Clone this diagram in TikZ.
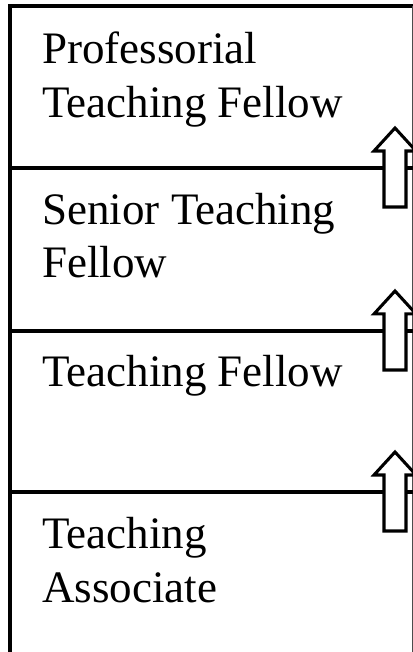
\documentclass[tikz,border=0pt]{standalone}
\usepackage{fontspec}
\setmainfont{Liberation Serif}
\usepackage{tikz}

\newcommand{\rankfont}{\fontsize{33.9}{40.5}\selectfont}

\begin{document}
\begin{tikzpicture}[x=1cm,y=1cm, every node/.style={font=\rankfont, inner sep=0pt, anchor=base west, align=left},
  border/.style={line width=3.3pt},
  uparrow/.style={draw, fill=white, line width=2.3pt, line join=miter}]
\useasboundingbox (0,0) rectangle (10.927,-17.251);
% outer frame, cut off at the right and at the bottom
\draw[border] (0.265,-17.3) -- (0.265,-0.159) -- (10.95,-0.159);
\draw[line width=0.6pt, black!70] (10.90,-0.159) -- (10.90,-17.3);
% rank boundaries
\draw[border] (0.265,-4.445) -- (10.95,-4.445);
\draw[border] (0.265,-8.757) -- (10.95,-8.757);
\draw[border] (0.265,-13.017) -- (10.95,-13.017);
% ranks (base anchor sits on the last line)
\node (prof) at (1.11,-3.096) {Professorial\\Teaching Fellow};
\node (senior) at (1.11,-7.355) {Senior Teaching\\Fellow};
\node (fellow) at (1.11,-10.239) {Teaching Fellow};
\node (assoc) at (1.11,-15.928) {Teaching\\Associate};
% promotion arrows
\draw[uparrow, shift={(0,-4.445)}] (10.16,-1.032) -- (10.16,0.45) -- (9.895,0.45) -- (10.451,1.058)
  -- (11.007,0.45) -- (10.742,0.45) -- (10.742,-1.032) -- cycle;
\draw[uparrow, shift={(0,-8.757)}] (10.16,-1.032) -- (10.16,0.45) -- (9.895,0.45) -- (10.451,1.058)
  -- (11.007,0.45) -- (10.742,0.45) -- (10.742,-1.032) -- cycle;
\draw[uparrow, shift={(0,-13.017)}] (10.16,-1.032) -- (10.16,0.45) -- (9.895,0.45) -- (10.451,1.058)
  -- (11.007,0.45) -- (10.742,0.45) -- (10.742,-1.032) -- cycle;
\end{tikzpicture}
\end{document}
